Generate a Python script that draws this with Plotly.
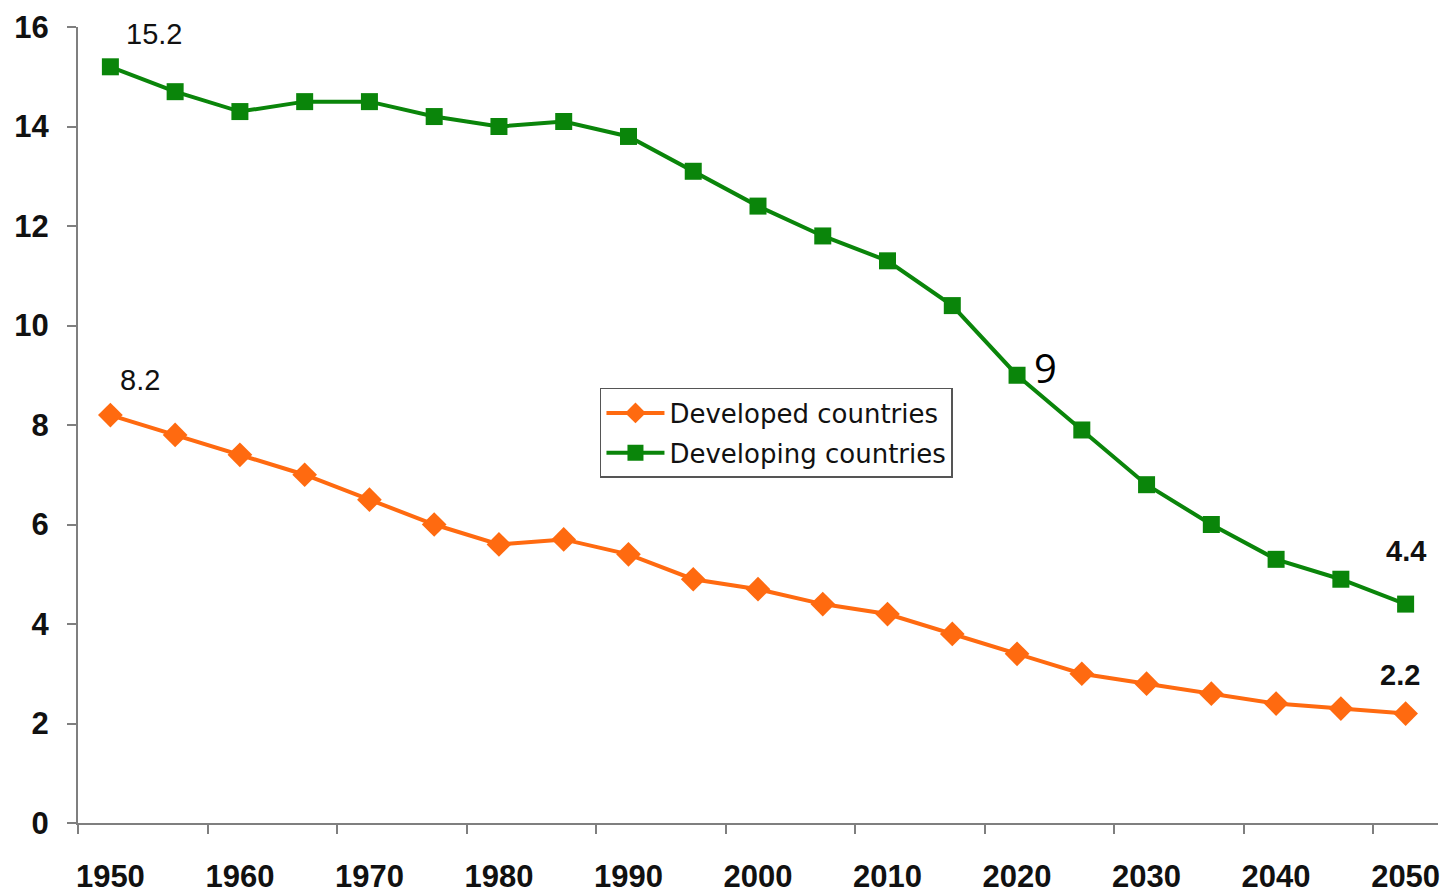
import plotly.graph_objects as go

years = [1950, 1955, 1960, 1965, 1970, 1975, 1980, 1985, 1990, 1995, 2000,
         2005, 2010, 2015, 2020, 2025, 2030, 2035, 2040, 2045, 2050]
developed = [8.2, 7.8, 7.4, 7.0, 6.5, 6.0, 5.6, 5.7, 5.4, 4.9, 4.7,
             4.4, 4.2, 3.8, 3.4, 3.0, 2.8, 2.6, 2.4, 2.3, 2.2]
developing = [15.2, 14.7, 14.3, 14.5, 14.5, 14.2, 14.0, 14.1, 13.8, 13.1, 12.4,
              11.8, 11.3, 10.4, 9.0, 7.9, 6.8, 6.0, 5.3, 4.9, 4.4]
label_years = [1950, 1960, 1970, 1980, 1990, 2000, 2010, 2020, 2030, 2040, 2050]
y_ticks = [0, 2, 4, 6, 8, 10, 12, 14, 16]

ORANGE = "#FF6A10"
GREEN = "#0A850A"
AXIS = "#7F7F7F"
XR = [1947.5, 2052.5]

fig = go.Figure()
fig.add_trace(go.Scatter(
    x=years, y=developed, name="Developed countries", mode="lines+markers",
    legendgroup="a",
    line=dict(color=ORANGE, width=4),
    marker=dict(symbol="diamond", size=19, color=ORANGE),
))
fig.add_trace(go.Scatter(
    x=years, y=developing, name="Developing countries", mode="lines+markers",
    legendgroup="b",
    line=dict(color=GREEN, width=4),
    marker=dict(symbol="square", size=17, color=GREEN),
))

fig.update_layout(
    width=1444, height=887,
    margin=dict(l=70, r=14, t=19, b=72, autoexpand=False),
    paper_bgcolor="white", plot_bgcolor="white",
    font=dict(family="Liberation Sans, Arial, sans-serif", color="black"),
    showlegend=True,
    legend=dict(
        x=0.3838, y=0.5465, xanchor="left", yanchor="top",
        bgcolor="white", bordercolor="#555555", borderwidth=1.5,
        font=dict(family="DejaVu Sans", size=26, color="#111111"),
        itemwidth=58, tracegroupgap=3,
    ),
    xaxis=dict(
        range=XR, tickmode="array", tickvals=label_years,
        ticktext=[str(v) for v in label_years],
        ticks="", showgrid=False, zeroline=False, automargin=False,
        showline=True, linecolor=AXIS, linewidth=2,
        tickfont=dict(family="Liberation Sans", size=31, color="#111111", weight="bold"),
        ticklabelstandoff=25,
        minor=dict(tick0=1947.5, dtick=10, ticks="outside", ticklen=9,
                   tickwidth=2, tickcolor=AXIS, showgrid=False),
    ),
    yaxis=dict(
        range=[0, 16], tickmode="array", tickvals=y_ticks,
        ticks="outside", ticklen=9, tickwidth=2, tickcolor=AXIS,
        showgrid=False, zeroline=False, automargin=False,
        showline=True, linecolor=AXIS, linewidth=2,
        tickfont=dict(family="Liberation Sans", size=31, color="#111111", weight="bold"),
        ticklabelstandoff=12,
    ),
)

ann_font = dict(family="Liberation Sans", size=29, color="#111111")
fig.add_annotation(x=years[0], y=developing[0], text="15.2", showarrow=False,
                   xshift=44, yshift=33, font=ann_font)
fig.add_annotation(x=years[0], y=developed[0], text="8.2", showarrow=False,
                   xshift=30, yshift=35, font=ann_font)
fig.add_annotation(x=years[14], y=developing[14], text="9", showarrow=False,
                   xshift=28, yshift=8,
                   font=dict(family="Open Sans", size=40, color="black"))
fig.add_annotation(x=years[-1], y=developing[-1], text="<b>4.4</b>", showarrow=False,
                   xshift=0, yshift=53, font=ann_font)
fig.add_annotation(x=years[-1], y=developed[-1], text="<b>2.2</b>", showarrow=False,
                   xshift=-6, yshift=39, font=ann_font)

fig.write_html("out.html")
